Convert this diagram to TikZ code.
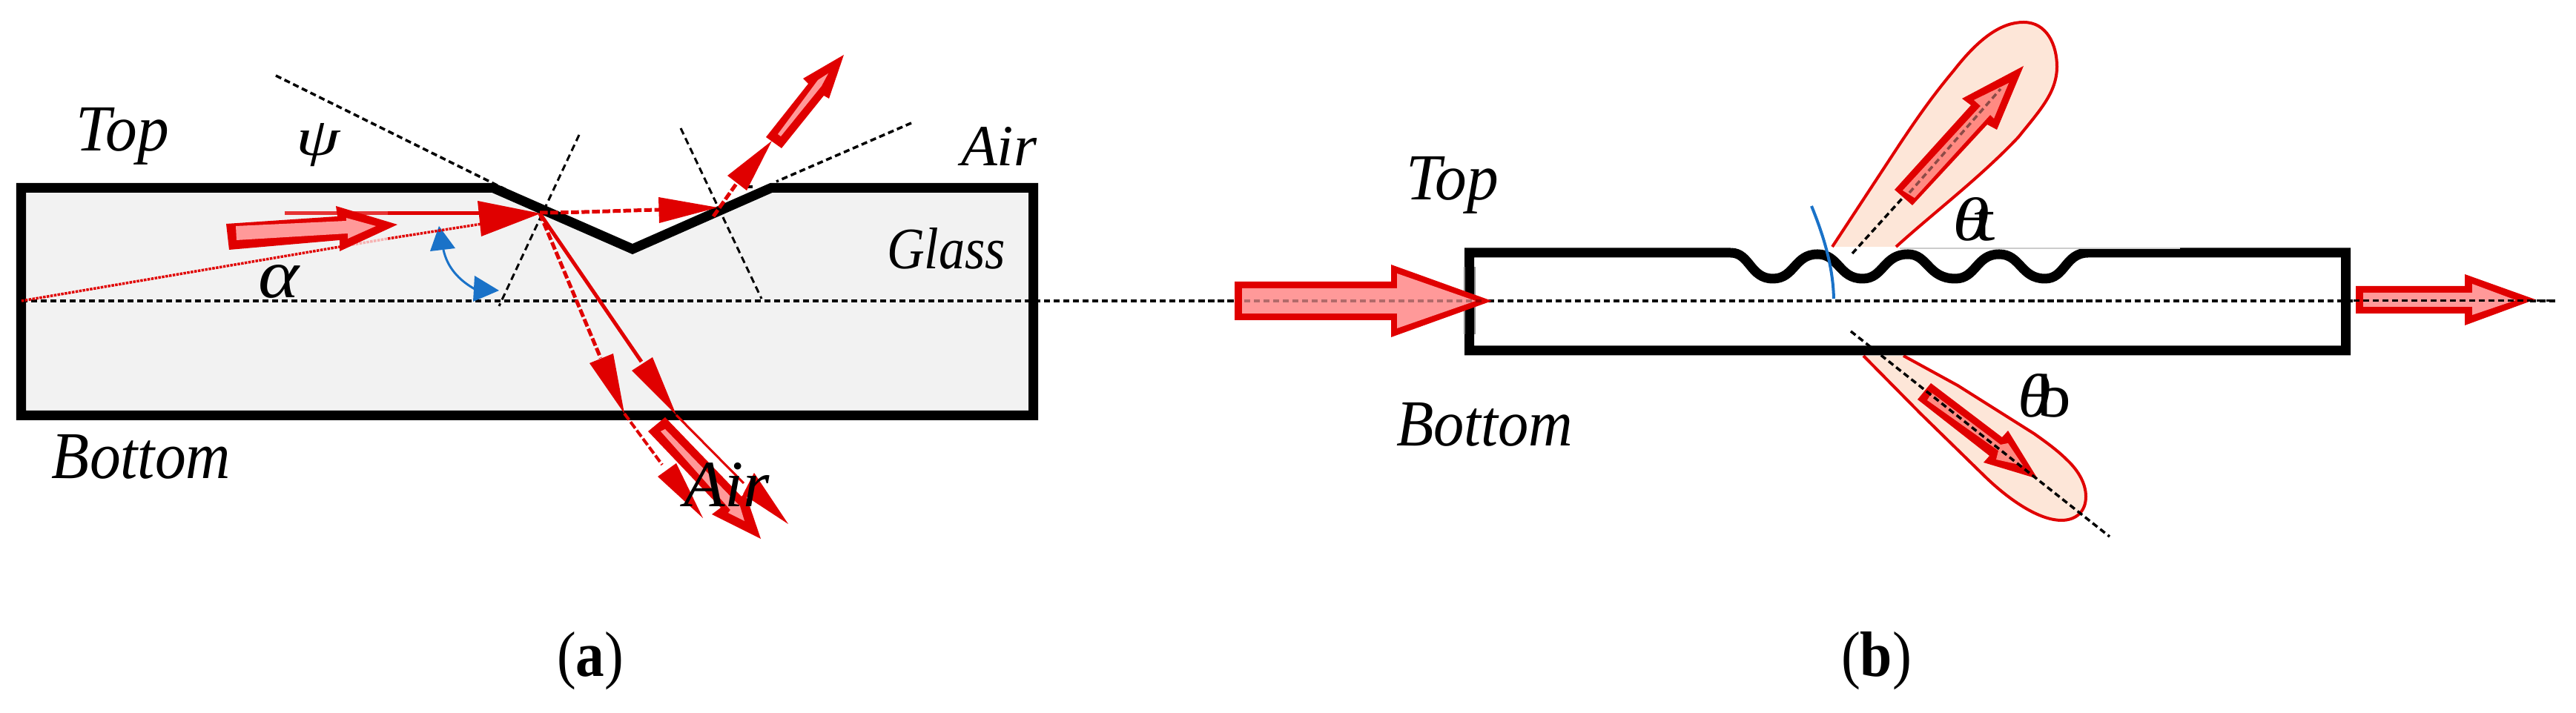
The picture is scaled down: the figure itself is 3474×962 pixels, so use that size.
\documentclass[tikz,border=0pt]{standalone}
\usepackage{graphicx}
\usepackage{fontspec}
\setmainfont{Liberation Serif}
\definecolor{rayred}{HTML}{E00000}
\definecolor{raypink}{HTML}{FF9999}
\definecolor{raypinkb}{HTML}{FF8A82}
\definecolor{lobefill}{HTML}{FDE6D8}
\definecolor{glassfill}{HTML}{F2F2F2}
\definecolor{angblue}{HTML}{1A72C8}
\newlength\pxu
\setlength\pxu{0.28453pt}
\newcommand\lab[6]{\node[txt] (#1) at (#2,#3) {\resizebox{#4\pxu}{#5\pxu}{#6}};}
\tikzset{
  txt/.style={anchor=base west,inner sep=0pt,outer sep=0pt,text=black},
  wall/.style={draw=black,line width=13\pxu,miter limit=10},
  axisline/.style={draw=black,line width=3.5\pxu,dash pattern=on 2.3pt off 1.4pt},
  thindash/.style={draw=black,line width=3\pxu,dash pattern=on 2.6pt off 1.6pt},
  ray/.style={draw=rayred,line width=5\pxu},
  raydash/.style={draw=rayred,line width=5\pxu,dash pattern=on 3pt off 1pt},
  raydot/.style={draw=rayred,line width=3.5\pxu,dash pattern=on 1pt off .4pt},
  head/.style={fill=rayred,draw=none},
  bluehead/.style={fill=angblue,draw=none},
  pinkin/.style={fill=raypink,draw=none},
  pinkb/.style={fill=raypinkb,draw=none},
  lobe/.style={fill=lobefill,draw=rayred,line width=4\pxu},
}
\begin{document}
\begin{tikzpicture}[x=0.01cm,y=-0.01cm]
\useasboundingbox (0,0) rectangle (3474,962);
% ---------- (a) slab
\path[wall,fill=glassfill] (28.5,253.5) -- (665,253.5) -- (853,336) -- (1040,253.5) -- (1393.5,253.5) -- (1393.5,560.5) -- (28.5,560.5) -- cycle;
% long axis
\path[axisline] (29,406) -- (3446,406);
% normals and tangents
\path[thindash] (781,182) -- (673,413);
\path[thindash] (918,173) -- (1027,403);
\path[axisline] (372,102) -- (725,277);
\path[axisline] (1229,166) -- (1047,245);
\path[axisline] (1007,252) -- (1020,252);
% blue angle
\draw[angblue,line width=3\pxu] (598,337) .. controls (603,360) and (618,378) .. (642,391);
\fill[bluehead] (592,305) -- (614,335) -- (580,339) -- cycle;
\fill[bluehead] (640,372) -- (673,392) -- (638,407) -- cycle;
% incident rays
\path[draw=rayred!80!white,line width=5\pxu] (384,288) -- (523,288);
\path[ray] (523,288) -- (650,288);
\path[raydot] (29,406) -- (470,331);
\path[draw=rayred!30!white,line width=3.5\pxu,dash pattern=on 1pt off .4pt] (470,331) -- (523,322);
\path[raydot] (523,322) -- (650,302);
\fill[head] (644,271) -- (729,288) -- (649,319) -- cycle;
% big incident arrow
\fill[head] (305,302) -- (455,292) -- (453,278) -- (536,303) -- (458,339) -- (458,324) -- (309,337) -- cycle;
\fill[pinkin] (318,305) -- (467,298) -- (467,294) -- (507,305) -- (469,322) -- (469,315) -- (319,324) -- cycle;
% reflected dashed ray across the groove
\path[raydash] (728,287) .. controls (780,287) and (840,284) .. (889,283);
\fill[head] (888,266) -- (968,280) -- (889,301) -- cycle;
% transmitted top
\path[raydash] (962,292) -- (993,248);
\fill[head] (981,237) -- (1041,190) -- (1007,257) -- cycle;
\fill[head] (1033,185) -- (1090,113) -- (1083,106) -- (1138,74) -- (1118,133) -- (1111,129) -- (1054,200) -- cycle;
\fill[pinkin] (1049,181) -- (1103,108) -- (1117,99) -- (1108,116) -- (1053,184) -- cycle;
% downward rays
\path[raydash] (728,288) -- (810,483);
\path[ray] (728,288) -- (865,488);
\fill[head] (795,490) -- (827,477) -- (842,558) -- cycle;
\fill[head] (852,500) -- (880,482) -- (912,560) -- cycle;
\path[draw=rayred,line width=3\pxu] (912,560) -- (1003,652);
\fill[head] (1017,638) -- (1063,707) -- (1002,667) -- cycle;
\path[raydash,line width=4\pxu] (842,558) -- (893,627);
\fill[head] (887,643) -- (912,625) -- (948,699) -- cycle;
\fill[head] (874,582) -- (897,563) -- (1000,670) -- (1005,665) -- (1026,727) -- (960,694) -- (972,685) -- cycle;
\fill[pinkin] (891,582) -- (897,579) -- (998,683) -- (1004,703) -- (982,692) -- (985,688) -- cycle;
% labels (a)
\lab{atop}{103}{204}{125}{58}{\itshape Top}
\lab{apsi}{399}{210}{59}{43}{\itshape ψ}
\lab{aalpha}{348}{402}{55}{44}{\itshape α}
\lab{aair}{1296}{224}{102}{52}{\itshape Air}
\lab{aglass}{1196}{363}{160}{55}{\itshape Glass}
\lab{abottom}{70}{646}{241}{59}{\itshape Bottom}
\lab{aair2}{922}{684}{116}{59}{\itshape Air}
\lab{acap}{751}{913}{90}{60}{(\textbf{a})}
% ---------- (b) lobes
\path[lobe] (2471,333) -- (2557,202) .. controls (2590,152) and (2610,125) .. (2635,95) .. controls (2670,50) and (2700,30) .. (2729,30) .. controls (2760,30) and (2774,60) .. (2774,90) .. controls (2774,125) and (2750,150) .. (2722,185) .. controls (2670,240) and (2610,285) .. (2557,333);
\path[lobe] (2513,480) -- (2590,558) -- (2677,643) .. controls (2710,675) and (2750,702) .. (2780,702) .. controls (2800,702) and (2813,690) .. (2813,670) .. controls (2813,650) and (2800,632) .. (2787,620) .. controls (2775,608) and (2760,597) .. (2743,585) -- (2640,520) -- (2567,480);
% slab
\path[wall] (2334,341) -- (1981.5,341) -- (1981.5,473) -- (3163.5,473) -- (3163.5,341) -- (2816,341) .. controls (2785,341) and (2785,376) .. (2758,376) .. controls (2725,376) and (2725,343) .. (2696,343) .. controls (2665,343) and (2665,376) .. (2637,376) .. controls (2600,376) and (2600,343) .. (2573,343) .. controls (2540,343) and (2540,376) .. (2512,376) .. controls (2480,376) and (2480,343) .. (2451,343) .. controls (2420,343) and (2420,376) .. (2391,376) .. controls (2360,376) and (2360,341) .. (2334,341);
\draw[black!20,line width=2\pxu] (2562,335) -- (2940,335);
\draw[black!45,line width=1.5\pxu] (1975,360) -- (1975,451);
\draw[black!45,line width=1.5\pxu] (1989,360) -- (1989,451);
% blue arc
\draw[angblue,line width=4\pxu] (2443,278) .. controls (2460,320) and (2472,360) .. (2473,403);
% dashed lobe axes
\path[axisline] (2498,342) -- (2565,268);
% upper lobe arrow
\fill[head] (2555,256) -- (2658,142) -- (2646,133) -- (2729,89) -- (2693,175) -- (2680,168) -- (2579,277) -- cycle;
\fill[pinkb] (2566,257) -- (2671,143) -- (2662,135) -- (2709,112) -- (2689,160) -- (2684,155) -- (2582,267) -- cycle;
\path[axisline,draw opacity=.45] (2575,260) -- (2698,120);
% lower lobe arrow
\fill[head] (2586,539) -- (2604,517) -- (2700,590) -- (2708,581) -- (2748,646) -- (2675,624) -- (2683,615) -- cycle;
\fill[pinkb] (2599,540) -- (2605,530) -- (2698,600) -- (2708,598) -- (2728,628) -- (2692,620) -- (2695,608) -- cycle;
\path[axisline] (2496,447) -- (2845,724);
% input arrow
\fill[head] (1665,380) -- (1876,380) -- (1876,357) -- (2012,406) -- (1876,455) -- (1876,432) -- (1665,432) -- cycle;
\fill[pinkin] (1675,389) -- (1884,389) -- (1884,369) -- (1990,406) -- (1884,443) -- (1884,423) -- (1675,423) -- cycle;
\path[axisline,draw opacity=.3] (1678,406) -- (2000,406);
% output arrow
\fill[head] (3177,386) -- (3324,386) -- (3324,370) -- (3419,404) -- (3324,439) -- (3324,423) -- (3177,423) -- cycle;
\fill[pinkin] (3187,395) -- (3334,395) -- (3334,383) -- (3393,405) -- (3334,425) -- (3334,414) -- (3187,414) -- cycle;
\path[axisline] (3174,405.5) -- (3446,405.5);
% labels (b)
\lab{btop}{1896}{270}{125}{58}{\itshape Top}
\lab{bbottom}{1883}{602}{238}{58}{\itshape Bottom}
\lab{btheta}{2633}{325}{58}{58}{{\itshape θ}\kern-.2em t}
\lab{bthetab}{2721}{563}{72}{58}{{\itshape θ}\kern-.2em b}
\lab{bcap}{2483}{913}{95}{60}{(\textbf{b})}
\end{tikzpicture}
\end{document}
